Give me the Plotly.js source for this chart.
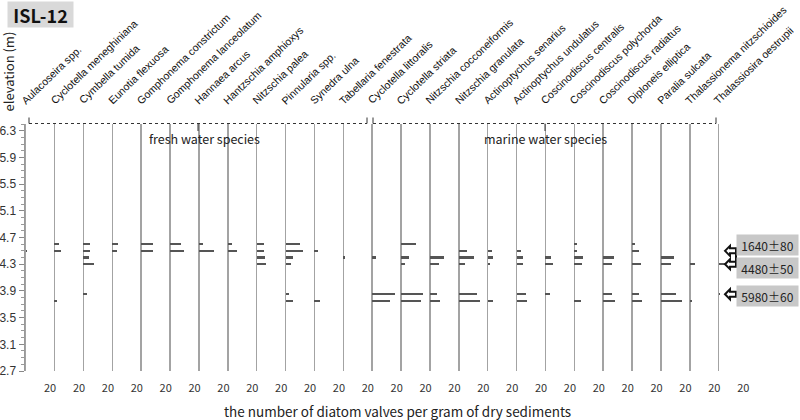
<!DOCTYPE html>
<html><head><meta charset="utf-8">
<script src="https://cdn.plot.ly/plotly-3.0.1.min.js"></script>
<style>html,body{margin:0;padding:0;background:#fff}#chart{width:800px;height:420px}</style>
</head><body><div id="chart"></div>
<script>
// ---------------- data ----------------
const species = [
  'Aulacoseira spp.','Cyclotella meneghiniana','Cymbella tumida','Eunotia flexuosa',
  'Gomphonema constrictum','Gomphonema lanceolatum','Hannaea arcus','Hantzschia amphioxys',
  'Nitzschia palea','Pinnularia spp.','Synedra ulna','Tabellaria fenestrata',
  'Cyclotella littoralis','Cyclotella striata','Nitzschia cocconeiformis','Nitzschia granulata',
  'Actinoptychus senarius','Actinoptychus undulatus','Coscinodiscus centralis','Coscinodiscus polychorda',
  'Coscinodiscus radiatus','Diploneis elliptica','Paralia sulcata','Thalassionema nitzschioides',
  'Thalassiosira oestrupii'
];
const levels = [4.6, 4.5, 4.4, 4.3, 3.85, 3.75];   // sample elevations (m)
const at460 = [0,3.5,5.4,4.6,9.5,9.3,3.5,3.5,5.7,11.7,0,0, 0,12.5,0,0,0,0,0,2.4,0,2.2,0,0,0];
const at450 = [1.5,5,5.4,3.8,9.5,11.3,12.2,7.6,6.3,14.4,3.3,0, 0,0,0,6.3,3.3,3.3,0,2.4,0,5.3,0,0,0];
const at440 = [0,0,4.6,0,0,0,0,0,6.5,5.7,0,1, 3.3,6.5,11.4,12.4,4.4,5.2,4.4,7.3,9.2,0,10.9,0,0];
const at430 = [0,0,8.7,0,0,0,0,0,7.3,4.4,0,0, 0,3.3,7.6,5.2,2.2,5.2,6.2,6.5,7.3,7.2,7.8,4.1,5.4];
const at385 = [0,0,3.3,0,0,0,0,0,0,2.7,0,0, 19,18.2,5.4,15.2,0,7.3,4.1,0,7.3,5.4,12.2,0,1.4];
const at375 = [0,2,0,0,0,0,0,0,0,5.7,4.4,0, 14.2,16.3,8.4,17.1,4.4,8.2,0,5.4,9.3,8.2,17.1,1.8,0];
const levelCounts = [at460, at450, at440, at430, at385, at375];
const groupLabels = ['fresh water species', 'marine water species'];
const dateLabels = ['1640\u00B180', '4480\u00B150', '5980\u00B160'];
const dateLevels = [4.5, 4.3, 3.85];
const yRange = [2.7, 6.4];
const xTickValue = 20;

// ---------------- geometry ----------------
const W = 800, H = 420, L = 25, R = 53, T = 124, B = 49;
const pw = W - L - R, ph = H - T - B;
const nCol = species.length, colW = pw / nCol;
const pxPerM = ph / (yRange[1] - yRange[0]);
const px2x = p => (p - L) / pw;
const py2y = p => (H - B - p) / ph;
const elev2py = e => H - B - (e - yRange[0]) * pxPerM;
const xMin = -0.5, xMax = 23.07;

const traces = [];
const layout = {
  width: W, height: H, margin: {l: L, r: R, t: T, b: B},
  paper_bgcolor: '#fff', plot_bgcolor: 'rgba(0,0,0,0)',
  showlegend: false, bargap: 0,
  font: {family: 'Liberation Sans, Arial, sans-serif', color: '#222'},
  yaxis: {
    range: yRange, tick0: 2.7, dtick: 0.4, anchor: 'x',
    ticks: 'outside', ticklen: 5, tickcolor: '#888', tickwidth: 1,
    showline: true, linecolor: '#999', linewidth: 1.5,
    showgrid: false, zeroline: false,
    tickfont: {size: 12, color: '#333'},
    minor: {dtick: 0.1, tick0: 2.7, ticks: 'outside', ticklen: 3, tickcolor: '#999', showgrid: false}
  },
  shapes: [], annotations: []
};

species.forEach((name, i) => {
  const ax = i === 0 ? 'x' : 'x' + (i + 1);
  const key = i === 0 ? 'xaxis' : 'xaxis' + (i + 1);
  layout[key] = {
    domain: [i / nCol, (i + 1) / nCol], range: [xMin, xMax], anchor: 'y',
    showgrid: false, showline: false, zeroline: true,
    zerolinecolor: '#a3a3a3', zerolinewidth: 1.5,
    ticks: '', tickvals: [xTickValue], ticktext: [String(xTickValue)],
    ticklabelstandoff: 9,
    tickfont: {size: 11, color: '#333', family: 'Noto Sans CJK KR, Noto Sans, sans-serif'}
  };
  const xs = [], ys = [];
  levelCounts.forEach((arr, k) => { if (arr[i] > 0) { xs.push(arr[i]); ys.push(levels[k]); } });
  traces.push({
    type: 'bar', orientation: 'h', x: xs, y: ys, xaxis: ax, yaxis: 'y',
    width: 0.032, base: 0,
    marker: {color: '#555', line: {width: 0}}, hoverinfo: 'skip'
  });
  layout.annotations.push({
    xref: 'paper', yref: 'paper', x: px2x(L + i * colW - 9), y: py2y(109),
    xanchor: 'left', yanchor: 'bottom', textangle: -44, showarrow: false,
    text: name, font: {size: 10.6, color: '#111', family: 'Liberation Sans, Arial, sans-serif'}
  });
});

const brackets = [[29, 367, 198], [373, 716, 545]];
const labelCenters = [204, 545];
const dotY = 123.5, endY = 117.5;
brackets.forEach(([a, b, mid], g) => {
  const sty = {color: '#333', width: 1, dash: 'dot'};
  layout.shapes.push({type: 'line', xref: 'paper', yref: 'paper', x0: px2x(a), x1: px2x(b), y0: py2y(dotY), y1: py2y(dotY), line: sty});
  layout.shapes.push({type: 'line', xref: 'paper', yref: 'paper', x0: px2x(a), x1: px2x(a), y0: py2y(dotY), y1: py2y(endY), line: {color: '#333', width: 1}});
  layout.shapes.push({type: 'line', xref: 'paper', yref: 'paper', x0: px2x(b), x1: px2x(b), y0: py2y(dotY), y1: py2y(endY), line: {color: '#333', width: 1}});
  layout.shapes.push({type: 'line', xref: 'paper', yref: 'paper', x0: px2x(mid), x1: px2x(mid), y0: py2y(dotY), y1: py2y(131), line: {color: '#333', width: 1}});
  layout.annotations.push({
    xref: 'paper', yref: 'paper', x: px2x(labelCenters[g]), y: py2y(138),
    xanchor: 'center', yanchor: 'middle', showarrow: false, text: groupLabels[g],
    font: {size: 12.5, color: '#222', family: 'Noto Sans CJK KR, Noto Sans, sans-serif'}
  });
});

const boxOffsets = [-6, 4, 2];
dateLevels.forEach((e, k) => {
  const c = elev2py(e);
  const pts = [[725, c], [730, c - 5], [730, c - 2.5], [736, c - 2.5], [736, c + 2.5], [730, c + 2.5], [730, c + 5]];
  const path = 'M ' + pts.map(p => px2x(p[0]).toFixed(5) + ',' + py2y(p[1]).toFixed(5)).join(' L ') + ' Z';
  layout.shapes.push({type: 'path', xref: 'paper', yref: 'paper', path: path, fillcolor: '#fff', line: {color: '#111', width: 2}});
  layout.annotations.push({
    xref: 'paper', yref: 'paper', x: px2x(767), y: py2y(c + boxOffsets[k]),
    xanchor: 'center', yanchor: 'middle', showarrow: false, text: dateLabels[k],
    bgcolor: '#c8c8c8', width: 56, height: 15, borderpad: 2.5,
    font: {size: 12, color: '#222', family: 'Noto Sans CJK KR, Noto Sans, sans-serif'}
  });
});
layout.shapes.push({type: 'line', xref: 'paper', yref: 'paper', x0: px2x(736), x1: px2x(736),
  y0: py2y(elev2py(dateLevels[0])), y1: py2y(elev2py(dateLevels[1])), line: {color: '#111', width: 2}});

layout.annotations.push({
  xref: 'paper', yref: 'paper', x: px2x(7), y: py2y(14.5), xanchor: 'left', yanchor: 'middle',
  showarrow: false, text: '<b>ISL-12</b>', bgcolor: '#d9d9d9', width: 61, height: 21, borderpad: 2,
  font: {size: 18, color: '#111', family: 'Noto Sans CJK KR, Noto Sans, sans-serif'}
});
layout.annotations.push({
  xref: 'paper', yref: 'paper', x: px2x(7.5), y: py2y(72), xanchor: 'center', yanchor: 'middle',
  showarrow: false, text: 'elevation (m)', textangle: -90,
  font: {size: 13, color: '#222', family: 'Noto Sans CJK KR, Noto Sans, sans-serif'}
});
layout.annotations.push({
  xref: 'paper', yref: 'paper', x: px2x(397.5), y: py2y(411), xanchor: 'center', yanchor: 'middle',
  showarrow: false, text: 'the number of diatom valves per gram of dry sediments',
  font: {size: 13.5, color: '#222', family: 'Noto Sans CJK KR, Noto Sans, sans-serif'}
});

Plotly.newPlot('chart', traces, layout, {staticPlot: true, displayModeBar: false});
</script>
</body></html>
